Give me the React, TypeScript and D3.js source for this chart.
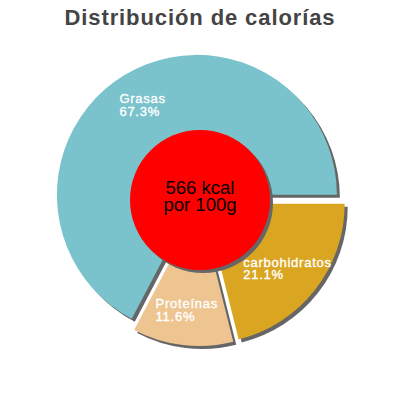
import React, { useEffect, useRef } from 'react';
import * as d3 from 'd3';

const categories = ['Grasas', 'Proteínas', 'carbohidratos'];
const percents = [67.3, 11.6, 21.1];
const colors = ['#7ac3cc', '#eec591', '#daa520'];
const centerLines = ['566 kcal', 'por 100g'];
const title = 'Distribución de calorías';

const App: React.FC = () => {
  const svgRef = useRef<SVGSVGElement | null>(null);

  useEffect(() => {
    document.body.style.margin = '0';
    const width = 400;
    const height = 400;
    const cx = 200;
    const cy = 200;
    const radius = 140;
    const explode = 6;
    const shadow = 3;
    const font = 'Liberation Sans, Arial, sans-serif';

    const svg = d3.select(svgRef.current).attr('width', width).attr('height', height);
    svg.selectAll('*').remove();

    svg
      .append('text')
      .attr('x', width / 2)
      .attr('y', 25)
      .attr('text-anchor', 'middle')
      .attr('font-family', font)
      .attr('font-weight', 'bold')
      .attr('font-size', 22)
      .attr('letter-spacing', 0.9)
      .attr('fill', '#444')
      .text(title);

    const data = categories.map((c, i) => ({ name: c, value: percents[i], color: colors[i] }));

    const pie = d3
      .pie<{ name: string; value: number; color: string }>()
      .sort(null)
      .value(d => d.value)
      .startAngle(Math.PI / 2)
      .endAngle(Math.PI / 2 - 2 * Math.PI);

    const arcs = pie(data);
    const arc = d3.arc<d3.PieArcDatum<{ name: string; value: number; color: string }>>()
      .innerRadius(0)
      .outerRadius(radius);

    const offset = (a: d3.PieArcDatum<any>) => {
      const m = (a.startAngle + a.endAngle) / 2;
      return [Math.sin(m) * explode, -Math.cos(m) * explode];
    };

    const g = svg.append('g').attr('transform', `translate(${cx},${cy})`);

    // shadows
    g.selectAll('path.shadow')
      .data(arcs)
      .enter()
      .append('path')
      .attr('class', 'shadow')
      .attr('d', arc)
      .attr('fill', '#666')
      .attr('transform', d => {
        const [dx, dy] = offset(d);
        return `translate(${dx + shadow},${dy + shadow})`;
      });

    g.selectAll('path.slice')
      .data(arcs)
      .enter()
      .append('path')
      .attr('class', 'slice')
      .attr('d', arc)
      .attr('fill', d => d.data.color)
      .attr('transform', d => {
        const [dx, dy] = offset(d);
        return `translate(${dx},${dy})`;
      });

    // labels
    const labelR = radius * 0.75;
    arcs.forEach(d => {
      const [dx, dy] = offset(d);
      const m = (d.startAngle + d.endAngle) / 2;
      const lx = dx + Math.sin(m) * labelR;
      const ly = dy - Math.cos(m) * labelR;
      const t = g
        .append('text')
        .attr('font-family', font)
        .attr('font-size', 13)
        .attr('letter-spacing', 0.75)
        .attr('fill', '#fff')
        .attr('stroke', '#fff')
        .attr('stroke-width', 0.35);
      t.append('tspan').attr('x', 0).attr('dy', 0).text(d.data.name);
      t.append('tspan').attr('x', 0).attr('dy', 12.5).text(d.data.value.toFixed(1) + '%');
      const bb = (t.node() as SVGTextElement).getBBox();
      t.attr('transform', `translate(${lx - bb.width / 2 - bb.x},${ly - bb.height / 2 - bb.y})`);
    });

    // center circle
    g.append('circle').attr('cx', shadow).attr('cy', shadow).attr('r', radius / 2).attr('fill', '#666');
    g.append('circle').attr('r', radius / 2).attr('fill', '#ff0000');

    const ct = g
      .append('text')
      .attr('text-anchor', 'middle')
      .attr('font-family', font)
      .attr('font-size', 18.5)
      .attr('fill', '#000');
    centerLines.forEach((line, i) => {
      ct.append('tspan').attr('x', 0).attr('y', -6 + i * 17).text(line);
    });
  }, []);

  return <svg ref={svgRef} style={{ display: 'block' }}></svg>;
};

export default App;
